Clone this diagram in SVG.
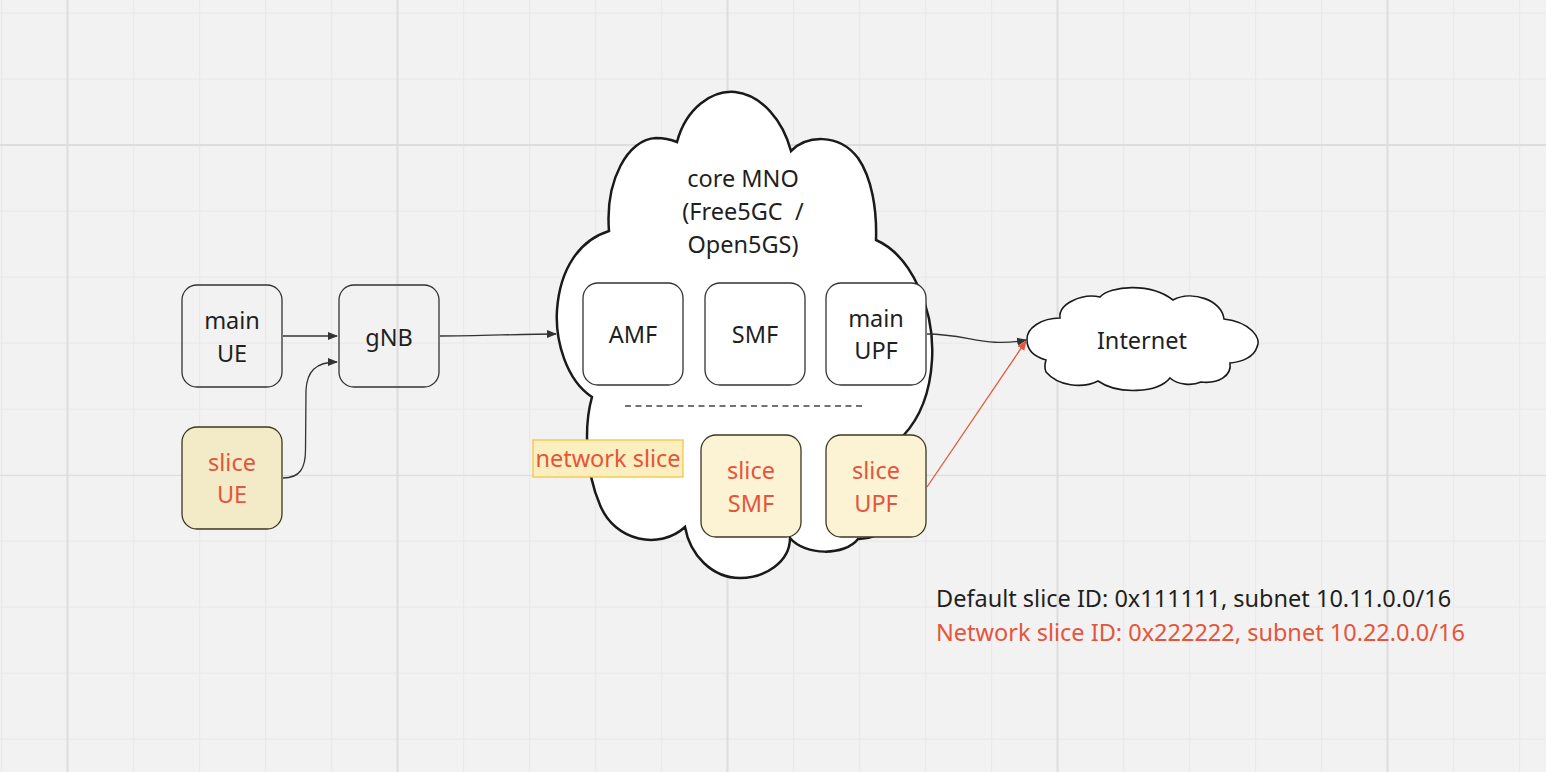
<svg xmlns="http://www.w3.org/2000/svg" width="1546" height="772" viewBox="0 0 1546 772">
  <defs>
    <pattern id="minor" patternUnits="userSpaceOnUse" x="1" y="12.5" width="66" height="66">
      <rect x="0" y="0" width="1.3" height="66" fill="#e9e9e9"/>
      <rect x="0" y="0" width="66" height="1.3" fill="#e9e9e9"/>
    </pattern>
    <pattern id="major" patternUnits="userSpaceOnUse" x="66.5" y="144" width="330" height="330">
      <rect x="0" y="0" width="2" height="330" fill="#dddddd"/>
      <rect x="0" y="0" width="330" height="2" fill="#dddddd"/>
    </pattern>
    <marker id="arrowDark" viewBox="0 0 10 10" refX="9" refY="5" markerWidth="10" markerHeight="10" markerUnits="userSpaceOnUse" orient="auto">
      <path d="M0,1 L10,5 L0,9 Z" fill="#333333"/>
    </marker>
    <marker id="arrowRed" viewBox="0 0 10 10" refX="9" refY="5" markerWidth="10" markerHeight="10" markerUnits="userSpaceOnUse" orient="auto">
      <path d="M0,1 L10,5 L0,9 Z" fill="#e5553b"/>
    </marker>
  </defs>
  <style>
    text { font-family: "Noto Sans", "Open Sans", "Liberation Sans", sans-serif; font-size: 23.5px; fill: #1f1f1f; }
    .c { text-anchor: middle; }
    .red { fill: #e5553b; }
    .box { fill: none; stroke: #333333; stroke-width: 1.3; }
    .wbox { fill: #ffffff; stroke: #333333; stroke-width: 1.3; }
    .sbox { fill: #f3eac8; stroke: #3b3820; stroke-width: 1.3; }
    .ybox { fill: #fcf3d4; stroke: #3b3820; stroke-width: 1.3; }
    .cloud { fill: #ffffff; stroke: #1a1a1a; }
    .conn { fill: none; stroke: #333333; stroke-width: 1.3; }
  </style>

  <rect x="0" y="0" width="1546" height="772" fill="#f2f2f2"/>
  <rect x="0" y="0" width="1546" height="772" fill="url(#minor)"/>
  <rect x="0" y="0" width="1546" height="772" fill="url(#major)"/>

  <g id="core-cloud">
    <path class="cloud" stroke-width="2.5" d="M677,142 C686,108 712,90 735,92 C762,95 783,121 791,151 C806,136 838,132 858,158 C872,178 877,210 876,240 C912,256 935,310 932,360 C930,395 918,420 903,436 C925,470 905,540 858,539 C845,556 805,556 790,538 C790,562 765,578 740,578 C712,578 690,555 685,527 C660,550 615,542 600,505 C585,470 584,425 592,397 C566,380 555,340 557,310 C560,268 580,240 609,231 C605,180 628,139 656,138 C665,138 672,140 677,142 Z"/>
    <text class="c" x="743" y="187">core MNO</text>
    <text class="c" x="743" y="220" xml:space="preserve">(Free5GC  /</text>
    <text class="c" x="743" y="253">Open5GS)</text>
    <line x1="625" y1="406" x2="864" y2="406" stroke="#444444" stroke-width="1.3" stroke-dasharray="6 4.5"/>
  </g>

  <g id="internet">
    <path class="cloud" stroke-width="1.6" d="M1027,340 C1026,328 1042,318 1060,318 C1058,304 1082,293 1100,297 C1110,286 1150,282 1173,300 C1192,290 1222,300 1224,319 C1250,322 1262,338 1257,347 C1254,357 1242,362 1230,363 C1232,376 1218,384 1201,382 C1192,386 1178,385 1170,378 C1158,393 1118,395 1098,381 C1082,389 1058,386 1046,372 C1044,367 1045,363 1046,360 C1032,356 1027,348 1027,340 Z"/>
    <text class="c" x="1142" y="349">Internet</text>
  </g>

  <g id="main-ue">
    <rect class="box" x="182" y="285" width="100" height="102" rx="15"/>
    <text class="c" x="232" y="329">main</text>
    <text class="c" x="232" y="362">UE</text>
  </g>

  <g id="gnb">
    <rect class="box" x="339" y="285" width="100" height="102" rx="15"/>
    <text class="c" x="389" y="346">gNB</text>
  </g>

  <g id="slice-ue">
    <rect class="sbox" x="182" y="427" width="100" height="102" rx="15"/>
    <text class="c red" x="232" y="471">slice</text>
    <text class="c red" x="232" y="503">UE</text>
  </g>

  <g id="amf">
    <rect class="wbox" x="583" y="283" width="100" height="102" rx="15"/>
    <text class="c" x="633" y="343">AMF</text>
  </g>

  <g id="smf">
    <rect class="wbox" x="705" y="283" width="100" height="102" rx="15"/>
    <text class="c" x="755" y="343">SMF</text>
  </g>

  <g id="main-upf">
    <rect class="wbox" x="826" y="283" width="100" height="102" rx="15"/>
    <text class="c" x="876" y="327">main</text>
    <text class="c" x="876" y="359">UPF</text>
  </g>

  <g id="network-slice-label">
    <rect x="533" y="440" width="150" height="37" fill="#fcefbf" stroke="#f4c542" stroke-width="1.3"/>
    <text class="c red" x="608" y="467">network slice</text>
  </g>

  <g id="slice-smf">
    <rect class="ybox" x="701" y="435" width="100" height="102" rx="15"/>
    <text class="c red" x="751" y="479">slice</text>
    <text class="c red" x="751" y="512">SMF</text>
  </g>

  <g id="slice-upf">
    <rect class="ybox" x="826" y="435" width="100" height="102" rx="15"/>
    <text class="c red" x="876" y="479">slice</text>
    <text class="c red" x="876" y="512">UPF</text>
  </g>

  <g id="connectors">
    <path class="conn" d="M283,336 L337,336" marker-end="url(#arrowDark)"/>
    <path class="conn" d="M283,478 C300,478 305.5,468 305.5,450 L306,390 C307,372 315,362 337,362" marker-end="url(#arrowDark)"/>
    <path class="conn" d="M440,336 C480,336 520,334 556,334" marker-end="url(#arrowDark)"/>
    <path class="conn" d="M927,334 C968,334 985,348 1026,340" marker-end="url(#arrowDark)"/>
    <path d="M927,487 L1026,341" fill="none" stroke="#e5553b" stroke-width="1.3" marker-end="url(#arrowRed)"/>
  </g>

  <g id="legend">
    <text x="936" y="607">Default slice ID: 0x111111, subnet 10.11.0.0/16</text>
    <text class="red" x="936" y="641">Network slice ID: 0x222222, subnet 10.22.0.0/16</text>
  </g>
</svg>
